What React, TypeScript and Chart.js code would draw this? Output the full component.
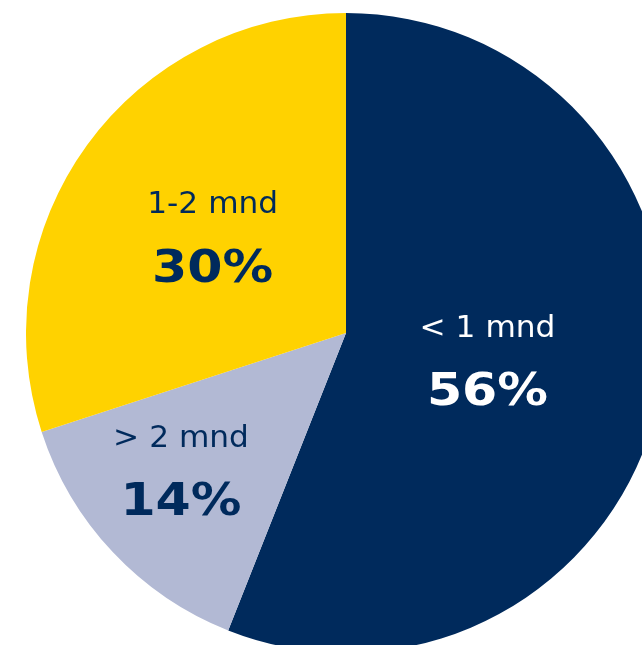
import React, { useEffect, useRef } from "react";
import { Chart, registerables } from "chart.js";

Chart.register(...registerables);

const categories = ["< 1 mnd", "> 2 mnd", "1-2 mnd"];
const values = [56, 14, 30];
const percentLabels = ["56%", "14%", "30%"];
const sliceColors = ["#002A5C", "#B2B9D4", "#FFD200"];
const textColors = ["#FFFFFF", "#002A5C", "#002A5C"];
// label placement within each slice (layout only)
const labelRadiusFraction = [0.45, 0.67, 0.515];
const labelAngleFraction = [0.5, 0.57, 0.5];

const labelPlugin = {
  id: "sliceLabels",
  afterDatasetsDraw(chart: any) {
    const ctx = chart.ctx;
    const meta = chart.getDatasetMeta(0);
    meta.data.forEach((arc: any, i: number) => {
      const { x, y, startAngle, endAngle, outerRadius } = arc.getProps(
        ["x", "y", "startAngle", "endAngle", "outerRadius"],
        true
      );
      const ang = startAngle + (endAngle - startAngle) * labelAngleFraction[i];
      const r = outerRadius * labelRadiusFraction[i];
      const cx = x + Math.cos(ang) * r;
      const cy = y + Math.sin(ang) * r;
      ctx.save();
      ctx.fillStyle = textColors[i];
      ctx.textAlign = "center";
      ctx.textBaseline = "middle";

      ctx.save();
      ctx.translate(cx, cy - 31);
      ctx.scale(1.04, 1);
      ctx.font = "30px 'DejaVu Sans', Verdana, sans-serif";
      ctx.fillText(categories[i], 0, 0);
      ctx.restore();

      ctx.save();
      ctx.translate(cx, cy + 34);
      ctx.scale(1.15, 1);
      ctx.font = "bold 44px 'DejaVu Sans', Verdana, sans-serif";
      ctx.fillText(percentLabels[i], 0, 0);
      ctx.restore();

      ctx.restore();
    });
  },
};

export default function App() {
  const canvasRef = useRef<HTMLCanvasElement | null>(null);

  useEffect(() => {
    if (!canvasRef.current) return;
    const chart = new Chart(canvasRef.current, {
      type: "pie",
      data: {
        labels: categories,
        datasets: [
          {
            data: values,
            backgroundColor: sliceColors,
            borderWidth: 0,
          },
        ],
      },
      options: {
        responsive: false,
        animation: false,
        devicePixelRatio: 1,
        layout: { padding: 0 },
        plugins: {
          legend: { display: false },
          tooltip: { enabled: false },
        },
      },
      plugins: [labelPlugin],
    });
    return () => chart.destroy();
  }, []);

  return (
    <div
      style={{
        position: "fixed",
        left: 0,
        top: 0,
        width: 642,
        height: 645,
        overflow: "hidden",
        background: "#fff",
      }}
    >
      <canvas
        ref={canvasRef}
        width={640}
        height={640}
        style={{ position: "absolute", left: 26, top: 13, width: 640, height: 640 }}
      />
    </div>
  );
}
